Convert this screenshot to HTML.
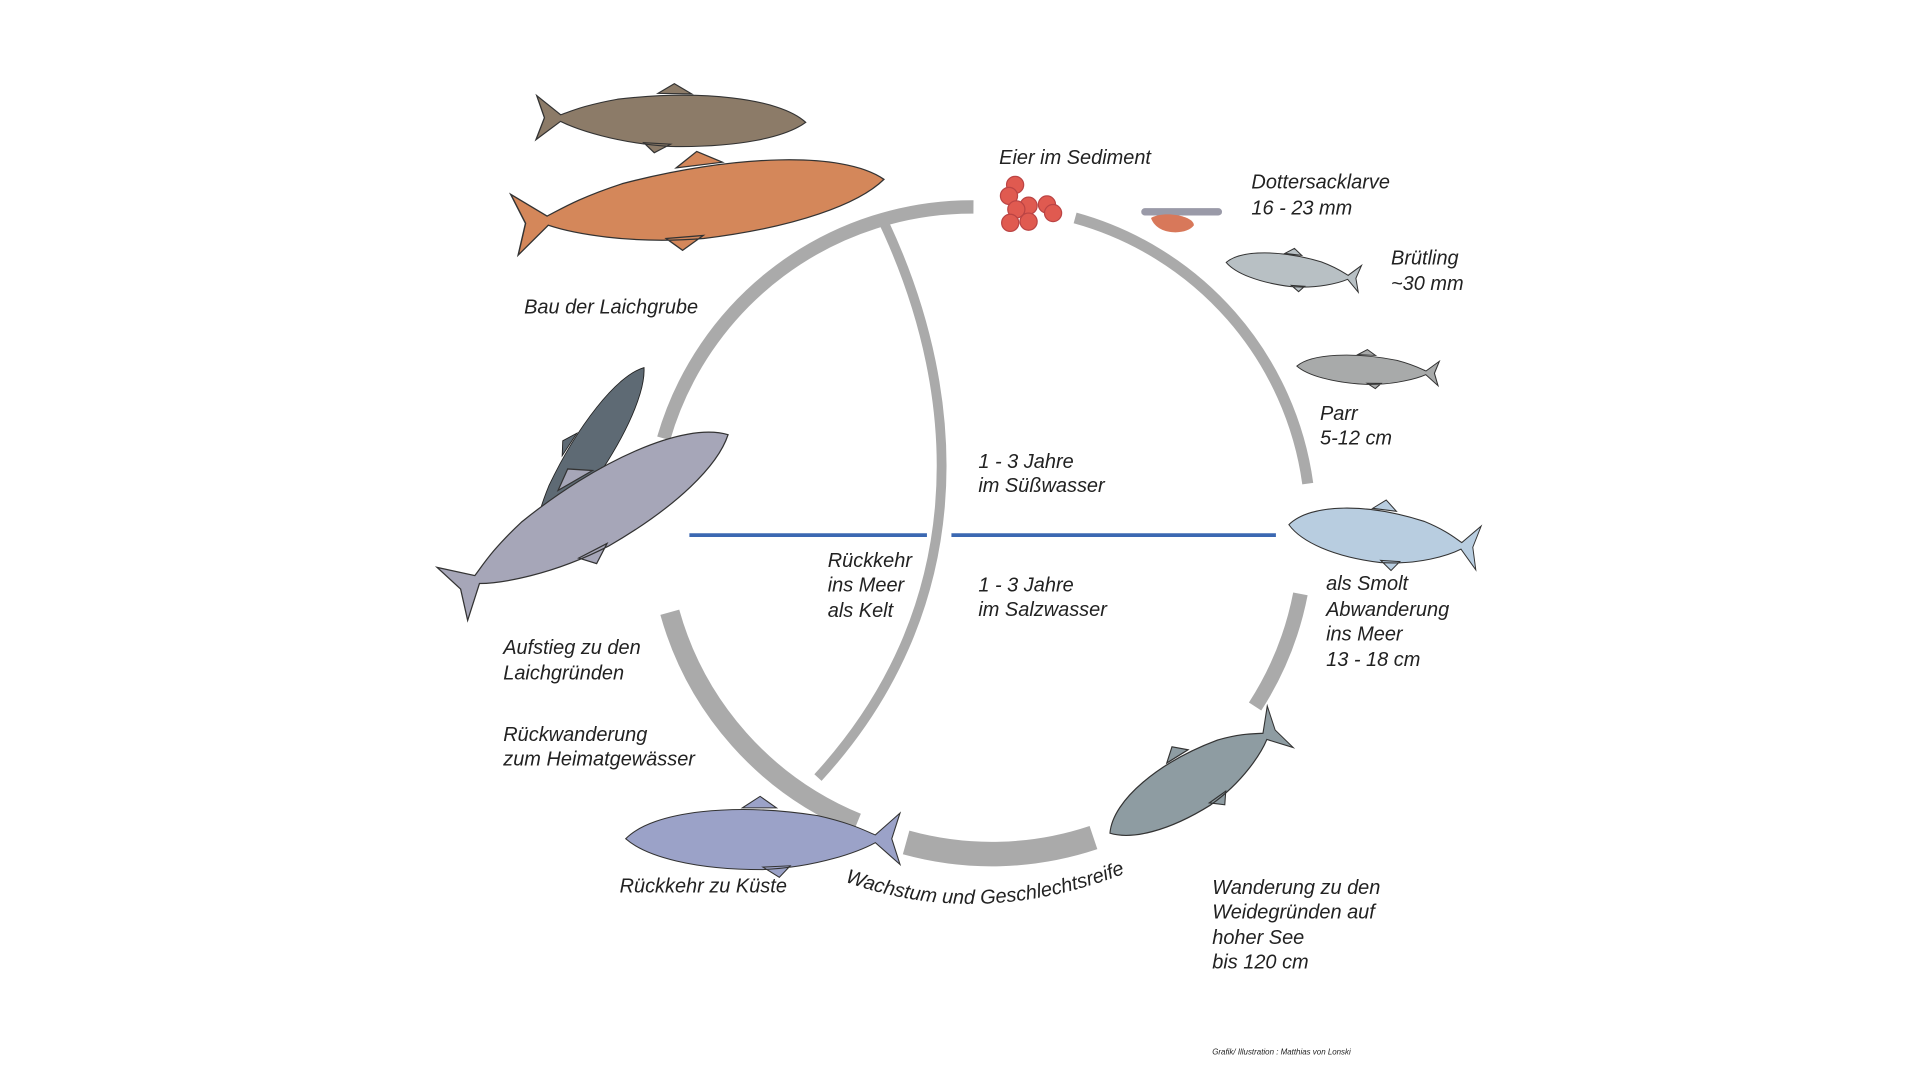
<!DOCTYPE html>
<html><head><meta charset="utf-8"><style>
html,body{margin:0;padding:0;background:#fff;width:1920px;height:1080px;overflow:hidden}
svg{display:block}
text{font-family:"Liberation Sans","DejaVu Sans",sans-serif;font-style:italic;font-size:16.3px;fill:#222}
</style></head><body>
<svg width="1920" height="1080" viewBox="0 0 1568 882" xmlns="http://www.w3.org/2000/svg">
<defs>
<path id="fish" d="M100,0 C80,-22 20,-28 -40,-18 C-65,-12 -75,-6 -82,-3 L-100,-20 L-94,0 L-100,20 L-82,3 C-70,10 -40,22 0,24 C50,24 85,14 100,0 Z M-10,-24 L2,-33 L15,-24 Z M-20,21 L-12,30 L0,22 Z"/>
<path id="arcText" d="M690,720 Q800,760 922,712"/>
</defs>
<rect width="1568" height="882" fill="#fff"/>
<g fill="none" stroke="#aaaaaa" stroke-linecap="butt">
  <path d="M795,169 A262,262 0 0 0 542,358" stroke-width="11"/>
  <path d="M878,178 A262,262 0 0 1 1068,395" stroke-width="9"/>
  <path d="M1062,485 A262,262 0 0 1 1025,577" stroke-width="12"/>
  <path d="M893,684 A262,262 0 0 1 740,688" stroke-width="20"/>
  <path d="M547,500 A262,262 0 0 0 700,672" stroke-width="16"/>
  <path d="M721,180 C792,330 792,500 668,635" stroke-width="8"/>
</g>
<g stroke="#3b68b2" stroke-width="3">
  <line x1="563" y1="437" x2="757" y2="437"/>
  <line x1="777" y1="437" x2="1042" y2="437"/>
</g>
<g fill="#e05a50" stroke="#b44" stroke-width="1">
  <circle cx="829" cy="151" r="7"/><circle cx="824" cy="160" r="7"/>
  <circle cx="840" cy="168" r="7"/><circle cx="830" cy="171" r="7"/>
  <circle cx="825" cy="182" r="7"/><circle cx="840" cy="181" r="7"/>
  <circle cx="855" cy="167" r="7"/><circle cx="860" cy="174" r="7"/>
</g>
<rect x="932" y="170" width="66" height="6" rx="3" fill="#9a9aa8"/>
<path d="M940,178 C950,172 975,176 975,184 C970,192 945,193 940,178Z" fill="#d8785a"/>
<use href="#fish" transform="translate(548,98) rotate(1) scale(1.1,0.9)" fill="#8c7b68" stroke="#333" stroke-width="1"/>
<use href="#fish" transform="translate(571,165) rotate(-7) scale(1.52,1.25)" fill="#d4875a" stroke="#333" stroke-width="0.8"/>
<use href="#fish" transform="translate(478,374) rotate(-57) scale(0.88,0.7)" fill="#5e6a74" stroke="#222" stroke-width="1"/>
<use href="#fish" transform="translate(482,420) rotate(-30) scale(1.3,1.25)" fill="#a6a6b8" stroke="#333" stroke-width="0.8"/>
<use href="#fish" transform="translate(623,685) scale(-1.12,1.05)" fill="#9ba2c8" stroke="#333" stroke-width="0.8"/>
<use href="#fish" transform="translate(976,637) rotate(-32) scale(-0.82,1.0)" fill="#8e9ca2" stroke="#333" stroke-width="1"/>
<use href="#fish" transform="translate(1130,438) rotate(7) scale(-0.78,0.9)" fill="#b8cde0" stroke="#333" stroke-width="1"/>
<use href="#fish" transform="translate(1117,302) rotate(3) scale(-0.58,0.5)" fill="#a8aaaa" stroke="#333" stroke-width="1.5"/>
<use href="#fish" transform="translate(1056,221) rotate(7) scale(-0.55,0.55)" fill="#b8c0c4" stroke="#333" stroke-width="1.5"/>
<text x="816" y="134">Eier im Sediment</text>
<text x="1022" y="154">Dottersacklarve</text><text x="1022" y="175">16 - 23 mm</text>
<text x="1136" y="216">Brütling</text><text x="1136" y="237">~30 mm</text>
<text x="1078" y="343">Parr</text><text x="1078" y="363">5-12 cm</text>
<text x="799" y="382">1 - 3 Jahre</text><text x="799" y="402">im Süßwasser</text>
<text x="676" y="463">Rückkehr</text><text x="676" y="483">ins Meer</text><text x="676" y="504">als Kelt</text>
<text x="799" y="483">1 - 3 Jahre</text><text x="799" y="503">im Salzwasser</text>
<text x="1083" y="482">als Smolt</text><text x="1083" y="503">Abwanderung</text><text x="1083" y="523">ins Meer</text><text x="1083" y="544">13 - 18 cm</text>
<text x="428" y="256">Bau der Laichgrube</text>
<text x="411" y="534">Aufstieg zu den</text><text x="411" y="555">Laichgründen</text>
<text x="411" y="605">Rückwanderung</text><text x="411" y="625">zum Heimatgewässer</text>
<text x="506" y="729">Rückkehr zu Küste</text>
<text><textPath href="#arcText">Wachstum und Geschlechtsreife</textPath></text>
<text x="990" y="730">Wanderung zu den</text><text x="990" y="750">Weidegründen auf</text><text x="990" y="771">hoher See</text><text x="990" y="791">bis 120 cm</text>
<text x="990" y="861" style="font-size:6.5px">Grafik/ Illustration : Matthias von Lonski</text>
</svg>
</body></html>
